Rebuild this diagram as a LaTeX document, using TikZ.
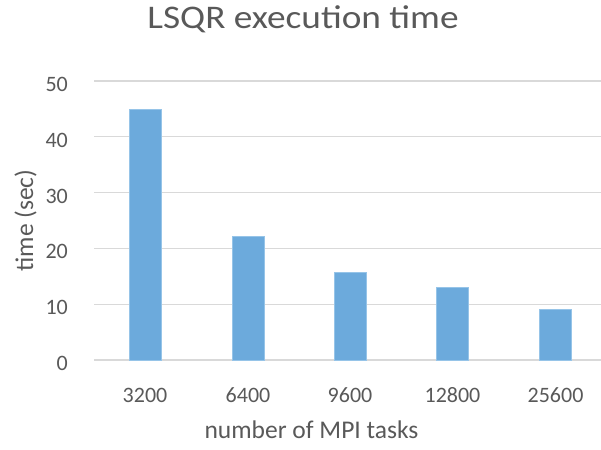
\documentclass[tikz,border=0pt]{standalone}
\usepackage{fontspec}
\setmainfont{Carlito}
\begin{document}
\begin{tikzpicture}[x=1pt,y=-1pt,
  txt/.style={text=black!65, inner sep=0pt},
  grid/.style={draw={rgb,255:red,217;green,217;blue,217}, line width=1.4pt},
  bar/.style={fill={rgb,255:red,108;green,170;blue,220}, draw={rgb,255:red,150;green,196;blue,232}, line width=0.5pt}]
\useasboundingbox (0,0) rectangle (601,449);
% horizontal grid lines and value labels
\foreach \v in {0,10,...,50}{
  \pgfmathsetmacro{\gy}{360-5.58*\v}
  \draw[grid] (94,\gy) -- (601,\gy);
  \node[txt, anchor=base east, font=\fontsize{22}{24}\selectfont] (y\v) at (68,\gy+10.5) {\v};
}
% bars with category labels
\foreach \cx/\val/\lab in {145/45.0/3200, 248/22.2/6400, 350/15.8/9600, 452.5/13.1/12800, 555.5/9.1/25600}{
  \fill[bar] (\cx-16,360) rectangle (\cx+16,{360-5.58*\val});
  \node[txt, anchor=base, font=\fontsize{22}{24}\selectfont] (x\lab) at (\cx,402) {\lab};
}
% titles
\node[txt, anchor=base, xscale=1.13, font=\fontsize{33}{35}\selectfont] (title) at (303,29) {LSQR execution time};
\node[txt, anchor=base, font=\fontsize{25.5}{27}\selectfont] (xtitle) at (311.5,438) {number of MPI tasks};
\node[txt, anchor=base, rotate=90, font=\fontsize{25.5}{27}\selectfont] (ytitle) at (33,220.5) {time (sec)};
\end{tikzpicture}
\end{document}
